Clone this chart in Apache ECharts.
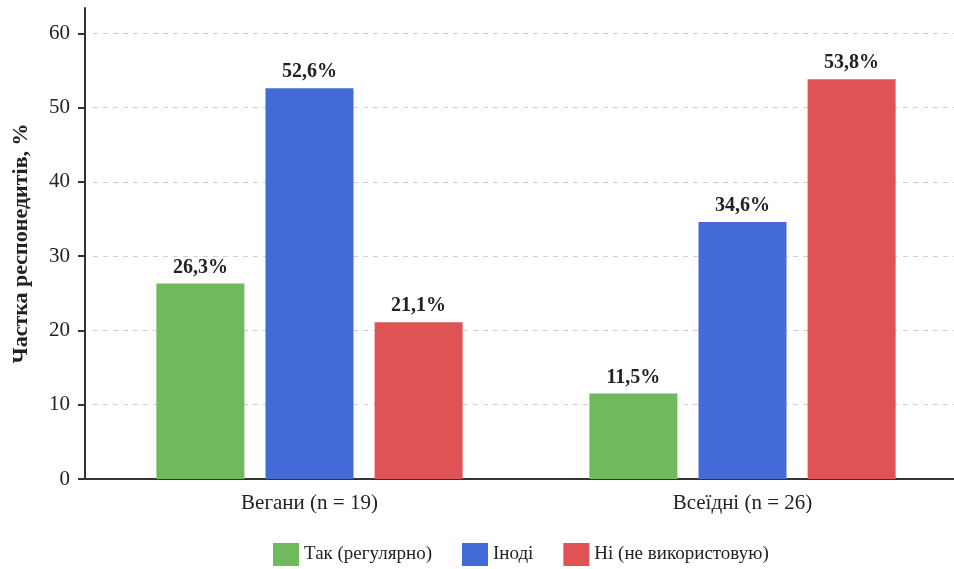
<!DOCTYPE html>
<html>
<head>
<meta charset="utf-8">
<script src="https://cdn.jsdelivr.net/npm/echarts@6/dist/echarts.min.js"></script>
<style>
  html, body { margin: 0; padding: 0; background: #fff; }
  #chart { width: 954px; height: 569px; }
</style>
</head>
<body>
<div id="chart"></div>
<script>
// data
const groups = ['Вегани (n = 19)', 'Всеїдні (n = 26)'];
const seriesNames = ['Так (регулярно)', 'Іноді', 'Ні (не використовую)'];
const regular = [26.3, 11.5];
const sometimes = [52.6, 34.6];
const never = [21.1, 53.8];
const yTicks = [0, 10, 20, 30, 40, 50, 60];

const colors = ['#6fba5f', '#426bd8', '#e05355'];
const font = '"Liberation Serif", "DejaVu Serif", serif';

const chart = echarts.init(document.getElementById('chart'));

const makeSeries = (name, values, color) => ({
  name: name,
  type: 'bar',
  data: values,
  barWidth: 88,
  barGap: '24%',
  itemStyle: { color: color },
  label: {
    show: true,
    position: 'top',
    distance: 6,
    fontFamily: font,
    fontSize: 20,
    fontWeight: 'bold',
    color: '#222',
    formatter: p => p.value.toFixed(1).replace('.', ',') + '%'
  }
});

chart.setOption({
  animation: false,
  color: colors,
  textStyle: { fontFamily: font },
  grid: { left: 93, top: 8, width: 866, bottom: 90, outerBoundsMode: 'none' },
  legend: {
    left: 268,
    top: 538,
    itemWidth: 26,
    itemHeight: 23,
    itemGap: 30,
    icon: 'rect',
    textStyle: { fontFamily: font, fontSize: 19, color: '#222' },
    data: seriesNames
  },
  xAxis: {
    type: 'category',
    data: groups,
    axisLine: { lineStyle: { color: '#333', width: 2 } },
    axisTick: { show: false },
    axisLabel: { fontFamily: font, fontSize: 21, color: '#222', margin: 14 }
  },
  yAxis: {
    type: 'value',
    min: 0,
    max: 63.4,
    interval: 10,
    offset: 8,
    name: 'Частка респонедитів, %',
    nameLocation: 'middle',
    nameGap: 53,
    nameTextStyle: { fontFamily: font, fontSize: 22, fontWeight: 'bold', color: '#222' },
    axisLine: { show: true, lineStyle: { color: '#333', width: 2 } },
    axisTick: { show: true, length: 7, lineStyle: { color: '#333', width: 2 }, customValues: yTicks },
    axisLabel: { fontFamily: font, fontSize: 21, color: '#222', margin: 15, customValues: yTicks },
    splitLine: { show: true, lineStyle: { color: '#d0d0d0', type: [5, 5], width: 1 } }
  },
  graphic: [{
    type: 'line',
    shape: { x1: 84, y1: 479, x2: 94, y2: 479 },
    style: { stroke: '#333', lineWidth: 2 }
  }],
  series: [
    makeSeries(seriesNames[0], regular, colors[0]),
    makeSeries(seriesNames[1], sometimes, colors[1]),
    makeSeries(seriesNames[2], never, colors[2])
  ]
});
</script>
</body>
</html>
